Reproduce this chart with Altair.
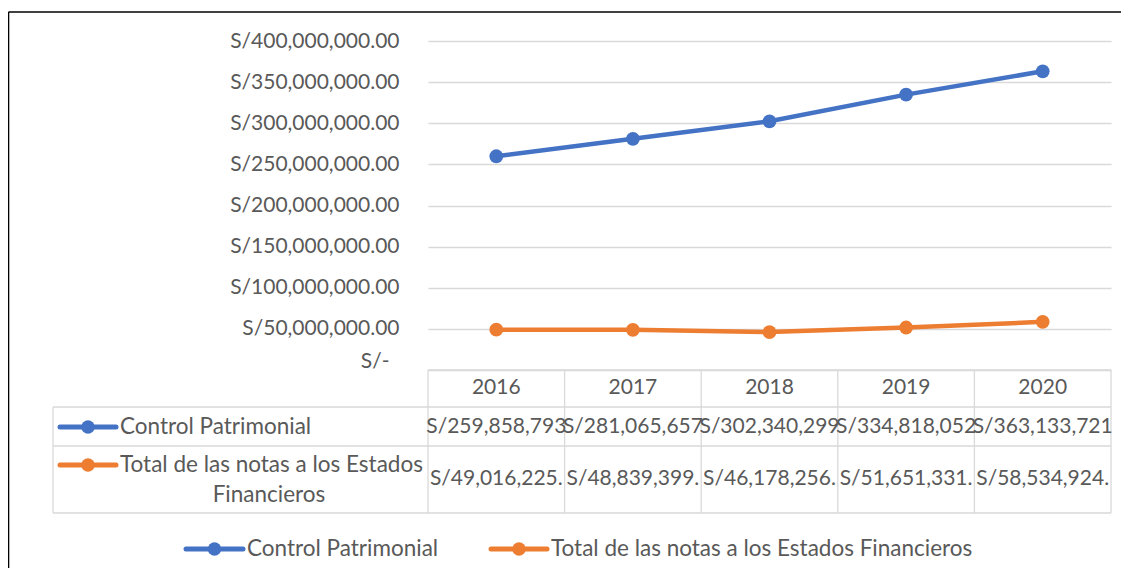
import altair as alt
import pandas as pd

years = ["2016", "2017", "2018", "2019", "2020"]
series_names = ["Control Patrimonial", "Total de las notas a los Estados Financieros"]
control_patrimonial = [259858793, 281065657, 302340299, 334818052, 363133721]
total_notas = [49016225, 48839399, 46178256, 51651331, 58534924]
y_ticks = [0, 50000000, 100000000, 150000000, 200000000, 250000000, 300000000, 350000000, 400000000]
colors = ["#4472C4", "#ED7D31"]

FONT = "Lato"
FS = 21
FS_LBL = 22.5
TXT = "#595959"
GRID = "#D9D9D9"

rows = []
for s, vals in zip(series_names, [control_patrimonial, total_notas]):
    for y, v in zip(years, vals):
        rows.append({"year": y, "series": s, "value": v})
df = pd.DataFrame(rows)
yr = pd.DataFrame({"year": years})
one = pd.DataFrame({"k": [0]})

W, H = 683, 329
PAD_R = 10
xs = alt.Scale(type="band", domain=years, paddingInner=0, paddingOuter=0)
ys = alt.Scale(domain=[0, 400000000], nice=False, zero=True)
cs = alt.Scale(domain=series_names, range=colors)

def xenc(bp=0.5):
    return alt.X("year:N", scale=xs, axis=None, bandPosition=bp)

base = alt.Chart(df)

lines = base.mark_line(strokeWidth=4.5).encode(
    x=xenc(),
    y=alt.Y("value:Q", scale=ys, title=None,
            axis=alt.Axis(values=y_ticks, grid=True, gridColor=GRID, gridWidth=1.3,
                          domain=False, ticks=False, labelFont=FONT, labelFontSize=FS,
                          labelColor=TXT,
                          labelPadding={"condition": {"test": "datum.value === 0", "value": 39}, "value": 29},
                          labelOffset={"condition": {"test": "datum.value === 0", "value": -9}, "value": 0},
                          labelExpr="datum.value === 0 ? 'S/-' : 'S/' + format(datum.value, ',.2f')")),
    color=alt.Color("series:N", scale=cs, legend=None),
)
points = base.mark_point(filled=True, size=190, opacity=1).encode(
    x=xenc(), y=alt.Y("value:Q", scale=ys),
    color=alt.Color("series:N", scale=cs, legend=None),
)

def hrule(y, x1, x2, color=GRID, w=1.3):
    return alt.Chart(one).mark_rule(color=color, strokeWidth=w).encode(
        x=alt.value(x1), x2=alt.value(x2), y=alt.value(y))

def vrule(x, y1, y2, color=GRID, w=1.3):
    return alt.Chart(one).mark_rule(color=color, strokeWidth=w).encode(
        x=alt.value(x), y=alt.value(y1), y2=alt.value(y2))

ROW_TOP, ROW1, ROW2, ROW_BOT = H, 366, 405, 472
LEFT = -375

table_v = alt.Chart(yr).mark_rule(color=GRID, strokeWidth=1.3).encode(
    x=xenc(0), y=alt.value(ROW_TOP), y2=alt.value(ROW_BOT))
table_lines = [
    table_v,
    vrule(W, ROW_TOP, ROW_BOT),
    vrule(LEFT, ROW1, ROW_BOT),
    hrule(ROW_TOP, 0, W),
    hrule(ROW1, LEFT, W),
    hrule(ROW2, LEFT, W),
    hrule(ROW_BOT, LEFT, W),
]

header = alt.Chart(yr).mark_text(font=FONT, fontSize=FS, color=TXT, baseline="middle").encode(
    x=xenc(), text="year:N", y=alt.value(347))

def value_row(series, ypos):
    return base.transform_filter(alt.datum.series == series).transform_calculate(
        label="substring('S/' + format(datum.value, ',.2f'), 0, 13)"
    ).mark_text(font=FONT, fontSize=FS, color=TXT, baseline="middle").encode(
        x=xenc(), y=alt.value(ypos), text="label:N")

vals = [value_row(series_names[0], 386), value_row(series_names[1], 438)]

def symbol(x1, x2, y, color):
    ln = alt.Chart(one).mark_rule(color=color, strokeWidth=5, strokeCap="round").encode(
        x=alt.value(x1), x2=alt.value(x2), y=alt.value(y))
    pt = alt.Chart(one).mark_point(filled=True, size=180, color=color, opacity=1).encode(
        x=alt.value((x1 + x2) / 2), y=alt.value(y))
    return [ln, pt]

def label(txt, x, y, align="left"):
    return alt.Chart(one).mark_text(font=FONT, fontSize=FS_LBL, color=TXT, align=align,
                                    baseline="middle", text=txt).encode(
        x=alt.value(x), y=alt.value(y))

row_labels = (
    symbol(-368, -312, 386, colors[0]) + [label(series_names[0], -308, 386)]
    + symbol(-368, -312, 424, colors[1])
    + [label("Total de las notas a los Estados", -308, 424),
       label("Financieros", -159, 454, align="center")]
)

legend = (
    symbol(-242, -185, 508, colors[0]) + [label(series_names[0], -181, 508)]
    + symbol(63, 119, 508, colors[1]) + [label(series_names[1], 123, 508)]
)

border = [
    hrule(-29, -419.5, W + PAD_R, color="#000000", w=1.6),
    vrule(-419.5, -29, H + 198, color="#000000", w=1.6),
]

chart = alt.layer(
    *table_lines, lines, points, header, *vals, *row_labels, *legend, *border
).properties(
    width=W, height=H,
    padding={"left": 420, "top": 33, "right": PAD_R, "bottom": 198},
    autosize=alt.AutoSizeParams(type="none"),
).configure_view(stroke=None)

chart.save("out.html", embed_options={"renderer": "svg", "actions": False})
